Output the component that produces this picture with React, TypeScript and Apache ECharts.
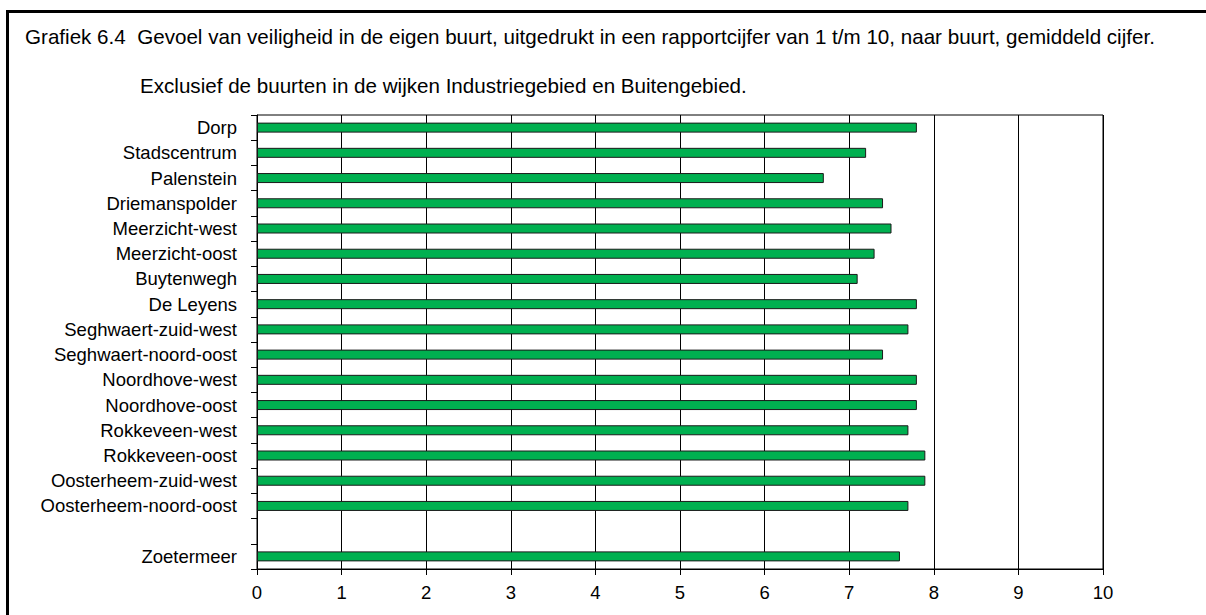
import React, { useEffect, useRef } from "react";
import * as echarts from "echarts";

const categories = [
  "Dorp",
  "Stadscentrum",
  "Palenstein",
  "Driemanspolder",
  "Meerzicht-west",
  "Meerzicht-oost",
  "Buytenwegh",
  "De Leyens",
  "Seghwaert-zuid-west",
  "Seghwaert-noord-oost",
  "Noordhove-west",
  "Noordhove-oost",
  "Rokkeveen-west",
  "Rokkeveen-oost",
  "Oosterheem-zuid-west",
  "Oosterheem-noord-oost",
  "",
  "Zoetermeer",
];

const values: (number | null)[] = [
  7.8, 7.2, 6.7, 7.4, 7.5, 7.3, 7.1, 7.8, 7.7, 7.4, 7.8, 7.8, 7.7, 7.9, 7.9, 7.7, null, 7.6,
];

const xTicks = { min: 0, max: 10, interval: 1 };

const titleText =
  "Grafiek 6.4  Gevoel van veiligheid in de eigen buurt, uitgedrukt in een rapportcijfer van 1 t/m 10, naar buurt, gemiddeld cijfer.";
const subtitleText = "Exclusief de buurten in de wijken Industriegebied en Buitengebied.";

const FONT = "'Liberation Sans', Arial, sans-serif";

export default function App() {
  const ref = useRef<HTMLDivElement>(null);
  useEffect(() => {
    if (!ref.current) return;
    const chart = echarts.init(ref.current, null, { renderer: "svg" });
    chart.setOption({
      animation: false,
      backgroundColor: "#ffffff",
      textStyle: { fontFamily: FONT },
      graphic: [
        {
          type: "line",
          shape: { x1: 6, y1: 11.5, x2: 1206, y2: 11.5 },
          style: { stroke: "#000", lineWidth: 3 },
        },
        {
          type: "line",
          shape: { x1: 7.5, y1: 10, x2: 7.5, y2: 615 },
          style: { stroke: "#000", lineWidth: 3 },
        },
        {
          type: "text",
          x: 25,
          y: 36,
          style: {
            text: titleText,
            font: `20.6px ${FONT}`,
            fill: "#000",
            verticalAlign: "middle",
          },
        },
        {
          type: "text",
          x: 140,
          y: 85,
          style: {
            text: subtitleText,
            font: `20.6px ${FONT}`,
            fill: "#000",
            verticalAlign: "middle",
          },
        },
      ],
      grid: {
        left: 257,
        top: 115,
        right: 103,
        bottom: 46,
        show: true,
        borderColor: "#000",
        borderWidth: 1,
        containLabel: false,
      },
      xAxis: {
        type: "value",
        min: xTicks.min,
        max: xTicks.max,
        interval: xTicks.interval,
        axisLine: { show: true, lineStyle: { color: "#000", width: 1 } },
        axisTick: { show: true, length: 6, lineStyle: { color: "#000" } },
        splitLine: { show: true, lineStyle: { color: "#000", width: 1 } },
        axisLabel: { color: "#000", fontSize: 18.5, margin: 14, fontFamily: FONT },
      },
      yAxis: {
        type: "category",
        data: categories,
        inverse: true,
        axisLine: { show: true, lineStyle: { color: "#000", width: 1 } },
        axisTick: { show: true, length: 6, alignWithLabel: false, lineStyle: { color: "#000" } },
        splitLine: { show: false },
        axisLabel: { color: "#000", fontSize: 18.5, margin: 20, fontFamily: FONT },
      },
      series: [
        {
          type: "bar",
          data: values,
          barWidth: 10,
          itemStyle: { color: "#00B050", borderColor: "#1a1a1a", borderWidth: 1 },
        },
      ],
    });
    return () => chart.dispose();
  }, []);
  return (
    <div
      ref={ref}
      style={{ position: "fixed", left: 0, top: 0, width: 1206, height: 615 }}
    />
  );
}
